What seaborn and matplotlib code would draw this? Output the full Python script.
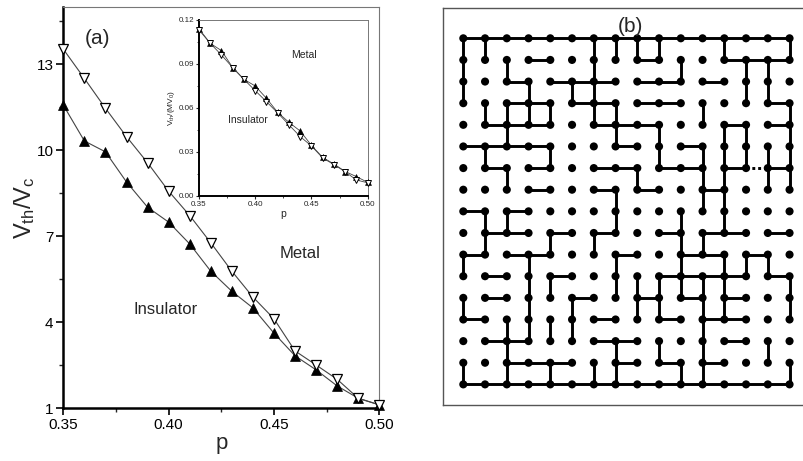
import matplotlib
matplotlib.use("Agg")
import matplotlib.pyplot as plt
import seaborn as sns
import numpy as np

# ---------------- data ----------------
p = [0.35, 0.36, 0.37, 0.38, 0.39, 0.40, 0.41, 0.42, 0.43, 0.44, 0.45, 0.46, 0.47, 0.48, 0.49, 0.50]
v_open = [13.52, 12.50, 11.46, 10.47, 9.56, 8.57, 7.72, 6.77, 5.78, 4.88, 4.12, 3.00, 2.51, 2.01, 1.35, 1.12]
v_filled = [11.57, 10.32, 9.94, 8.89, 8.01, 7.49, 6.73, 5.78, 5.08, 4.50, 3.62, 2.83, 2.34, 1.78, 1.35, 1.12]
inset_filled = [0.1140, 0.1041, 0.0991, 0.0875, 0.0795, 0.0750, 0.0666, 0.0570, 0.0502, 0.0443, 0.0345, 0.0263, 0.0218, 0.0167, 0.0132, 0.0093]
inset_open = [0.1132, 0.1041, 0.0961, 0.0875, 0.0795, 0.0718, 0.0643, 0.0566, 0.0485, 0.0405, 0.0341, 0.0259, 0.0214, 0.0165, 0.0109, 0.0090]

main_xticks = [0.35, 0.40, 0.45, 0.50]
main_yticks = [1, 4, 7, 10, 13]
inset_yticks = [0.00, 0.03, 0.06, 0.09, 0.12]

# lattice bonds: horizontal (15 per row, 17 rows); vertical (16 per row gap, 16 gaps); 2 = broken (dotted)
H_bonds = [
    "111111111111111",
    "000100001000111",
    "001011101101000",
    "001101101100001",
    "011100111000101",
    "111100010010000",
    "010100110110121",
    "000100101001000",
    "101000000000000",
    "011010100101101",
    "101100010011010",
    "010010000111101",
    "010001001010100",
    "100000100101100",
    "011000110000100",
    "001110010101000",
    "111111111111111",
]
V_bonds = [
    "1100001111001001",
    "1010001000100110",
    "1001011000000110",
    "0111101100010001",
    "0010000101001101",
    "0100100001011111",
    "0010000010011011",
    "0000000100011000",
    "0110000100101000",
    "0100101000110000",
    "1001000100101110",
    "0001100111111001",
    "1001010011011001",
    "0011110000010000",
    "0010000101010010",
    "1010101100110001",
]

# ---------------- style ----------------
sns.set_theme(style="ticks")
plt.rcParams["font.family"] = ["Liberation Sans", "DejaVu Sans"]
plt.rcParams["mathtext.default"] = "regular"

W, Hh = 804, 461
fig = plt.figure(figsize=(W / 100, Hh / 100), dpi=100)

def fpos(x0, y0, x1, y1):
    return [x0 / W, 1 - y1 / Hh, (x1 - x0) / W, (y1 - y0) / Hh]

# ---------------- panel (a) main ----------------
ax = fig.add_axes(fpos(63.3, 6.7, 379.3, 408.3))
sns.lineplot(x=p, y=v_filled, ax=ax, color="#444444", lw=0.8, marker="^", markersize=6.5,
             markerfacecolor="black", markeredgecolor="black", markeredgewidth=0.5, clip_on=False, zorder=3)
sns.lineplot(x=p, y=v_open, ax=ax, color="#444444", lw=0.8, marker="v", markersize=6.5,
             markerfacecolor="white", markeredgecolor="black", markeredgewidth=0.9, clip_on=False, zorder=4)
ax.set_xlim(0.35, 0.50)
ax.set_ylim(1, 15)
ax.set_xticks(main_xticks)
ax.set_xticklabels([f"{t:.2f}" for t in main_xticks])
ax.set_xticks([0.375, 0.425, 0.475], minor=True)
ax.set_yticks(main_yticks)
ax.set_yticklabels([str(t) for t in main_yticks])
ax.set_yticks([2.5, 5.5, 8.5, 11.5, 14.5], minor=True)
ax.tick_params(axis="both", which="major", direction="out", length=5, width=1.2, labelsize=11, colors="black", pad=2)
ax.tick_params(axis="both", which="minor", direction="out", length=3, width=1.0)
ax.tick_params(top=False, right=False, which="both")
for s in ["left", "bottom"]:
    ax.spines[s].set_linewidth(1.8)
    ax.spines[s].set_color("black")
for s in ["top", "right"]:
    ax.spines[s].set_linewidth(0.8)
    ax.spines[s].set_color("#777777")
ax.set_xlabel("p", fontsize=16, labelpad=1)
ax.set_ylabel("$V_{th}/V_c$", fontsize=17, labelpad=0)
ax.text(0.107, 0.92, "(a)", transform=ax.transAxes, fontsize=15, ha="center", va="center")
ax.text(0.75, 0.385, "Metal", transform=ax.transAxes, fontsize=12, ha="center", va="center")
ax.text(0.323, 0.245, "Insulator", transform=ax.transAxes, fontsize=12, ha="center", va="center")

# ---------------- inset ----------------
ai = fig.add_axes(fpos(199, 20, 367.7, 196))
sns.lineplot(x=p, y=inset_filled, ax=ai, color="#444444", lw=0.6, marker="^", markersize=3.8,
             markerfacecolor="black", markeredgecolor="black", markeredgewidth=0.4, clip_on=False, zorder=3)
sns.lineplot(x=p, y=inset_open, ax=ai, color="#444444", lw=0.6, marker="v", markersize=3.8,
             markerfacecolor="white", markeredgecolor="black", markeredgewidth=0.7, clip_on=False, zorder=4)
ai.set_xlim(0.35, 0.50)
ai.set_ylim(0, 0.12)
ai.set_xticks(main_xticks)
ai.set_xticklabels([f"{t:.2f}" for t in main_xticks])
ai.set_xticks([0.375, 0.425, 0.475], minor=True)
ai.set_yticks(inset_yticks)
ai.set_yticklabels([f"{t:.2f}" for t in inset_yticks])
ai.set_yticks([0.015, 0.045, 0.075, 0.105], minor=True)
ai.tick_params(axis="both", which="major", direction="out", length=2.5, width=0.8, labelsize=5.8, pad=1)
ai.tick_params(axis="both", which="minor", direction="out", length=1.5, width=0.6)
ai.tick_params(top=False, right=False, which="both")
for s in ["left", "bottom"]:
    ai.spines[s].set_linewidth(1.4)
    ai.spines[s].set_color("black")
for s in ["top", "right"]:
    ai.spines[s].set_linewidth(0.7)
    ai.spines[s].set_color("#777777")
ai.set_xlabel("p", fontsize=7.5, labelpad=1)
ai.set_ylabel("$V_{th}/(MV_0)$", fontsize=6, labelpad=1)
ai.text(0.62, 0.80, "Metal", transform=ai.transAxes, fontsize=7.5, ha="center", va="center")
ai.text(0.29, 0.43, "Insulator", transform=ai.transAxes, fontsize=7.5, ha="center", va="center")

# ---------------- panel (b) lattice ----------------
bx = fig.add_axes(fpos(443.5, 8.5, 807, 405))
x0, y0, dx, dy = 463.3, 38.3, 21.75, 21.63
bx.set_xlim((443.5 - x0) / dx, (807 - x0) / dx)
bx.set_ylim((405 - y0) / dy, (8.5 - y0) / dy)
bx.set_xticks([])
bx.set_yticks([])
for s in bx.spines.values():
    s.set_linewidth(1.0)
    s.set_color("#555555")

ncol = len(H_bonds[0]) + 1
nrow = len(H_bonds)
for r, row in enumerate(H_bonds):
    for c, b in enumerate(row):
        if b == "1":
            bx.plot([c, c + 1], [r, r], color="black", lw=2.1, solid_capstyle="butt", zorder=2)
        elif b == "2":
            bx.plot([c, c + 1], [r, r], color="black", lw=2.1, ls=(0, (1, 1)), zorder=2)
for r, row in enumerate(V_bonds):
    for c, b in enumerate(row):
        if b == "1":
            bx.plot([c, c], [r, r + 1], color="black", lw=2.1, solid_capstyle="butt", zorder=2)

gx, gy = np.meshgrid(np.arange(ncol), np.arange(nrow))
sns.scatterplot(x=gx.ravel(), y=gy.ravel(), ax=bx, s=34, color="black", edgecolor="none", zorder=3, legend=False)
bx.set_xlabel("")
bx.set_ylabel("")
fig.text(630 / W, 1 - 26 / Hh, "(b)", fontsize=15, ha="center", va="center")

fig.savefig("out.png", dpi=100)
